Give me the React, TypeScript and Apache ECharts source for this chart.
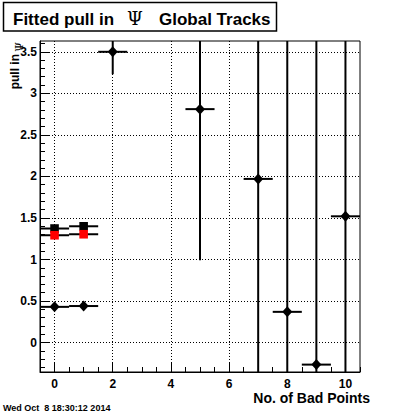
import React, { useEffect, useRef } from "react";
import * as echarts from "echarts";

// ---- data ----
const diamondX = [0, 1, 2, 5, 7, 8, 9, 10];
const diamondY = [0.43, 0.44, 3.5, 2.81, 1.97, 0.37, -0.265, 1.52];
const diamondXErr = [0.5, 0.5, 0.5, 0.5, 0.5, 0.5, 0.5, 0.5];
const diamondYErr = [0.02, 0.02, 0.27, 1.82, 3.0, 3.5, 4.2, 3.6];

const squareX = [0, 1];
const blackSquareY = [1.373, 1.4];
const redSquareY = [1.292, 1.304];
const squareXErr = [0.5, 0.5];
const squareYErr = [0.01, 0.01];

const xMajorTicks = [0, 2, 4, 6, 8, 10];
const yMajorTicks = [0, 0.5, 1, 1.5, 2, 2.5, 3, 3.5];

const titleMain = "Fitted pull in";
const titlePsi = "\u03A8";
const titleRest = "Global Tracks";
const xTitle = "No. of Bad Points";
const yTitle = "pull in";
const dateText = "Wed Oct  8 18:30:12 2014";

const X_MIN = -0.5;
const X_MAX = 10.5;
const Y_MIN = -0.354;
const Y_MAX = 3.63;

const xMinorTicks: number[] = [];
for (let i = -1; i <= 21; i++) xMinorTicks.push(i / 2);
const yMinorTicks: number[] = [];
for (let i = -3; i <= 36; i++) yMinorTicks.push(Math.round(i) / 10);

const FONT = "Liberation Sans";

function makeRenderer(marker: "diamond" | "square", color: string) {
  return (params: any, api: any) => {
    const x = api.value(0);
    const y = api.value(1);
    const ex = api.value(2);
    const ey = api.value(3);
    const cs = params.coordSys;
    const clampX = (v: number) => Math.max(cs.x, Math.min(cs.x + cs.width, v));
    const clampY = (v: number) => Math.max(cs.y, Math.min(cs.y + cs.height, v));
    const c = api.coord([x, y]);
    const l = clampX(api.coord([x - ex, y])[0]);
    const r = clampX(api.coord([x + ex, y])[0]);
    const t = clampY(api.coord([x, y + ey])[1]);
    const b = clampY(api.coord([x, y - ey])[1]);
    const children: any[] = [
      {
        type: "line",
        shape: { x1: l, y1: c[1], x2: r, y2: c[1] },
        style: { stroke: "#000", lineWidth: 2 },
      },
      {
        type: "line",
        shape: { x1: c[0], y1: t, x2: c[0], y2: b },
        style: { stroke: "#000", lineWidth: 2 },
      },
    ];
    if (marker === "diamond") {
      children.push({
        type: "polygon",
        shape: {
          points: [
            [c[0], c[1] - 5.5],
            [c[0] + 5, c[1]],
            [c[0], c[1] + 5.5],
            [c[0] - 5, c[1]],
          ],
        },
        style: { fill: color },
      });
    } else {
      children.push({
        type: "rect",
        shape: { x: c[0] - 4.3, y: c[1] - 4.3, width: 8.6, height: 8.6 },
        style: { fill: color },
      });
    }
    return { type: "group", children };
  };
}

export default function App() {
  const ref = useRef<HTMLDivElement>(null);

  useEffect(() => {
    if (!ref.current) return;
    const chart = echarts.init(ref.current, undefined, { renderer: "svg" });

    const diamondData = diamondX.map((x, i) => [x, diamondY[i], diamondXErr[i], diamondYErr[i]]);
    const blackSqData = squareX.map((x, i) => [x, blackSquareY[i], squareXErr[i], squareYErr[i]]);
    const redSqData = squareX.map((x, i) => [x, redSquareY[i], squareXErr[i], squareYErr[i]]);

    const labelStyle = { color: "#000", fontFamily: FONT, fontWeight: "bold" as const, fontSize: 12 };

    chart.setOption({
      animation: false,
      backgroundColor: "#fff",
      grid: {
        left: 40,
        top: 41,
        width: 320,
        height: 331,
        show: true,
        borderColor: "#000",
        borderWidth: 1,
        backgroundColor: "transparent",
        containLabel: false,
        outerBoundsMode: "none",
      },
      xAxis: [
        {
          type: "value",
          min: X_MIN,
          max: X_MAX,
          position: "bottom",
          axisLine: { show: true, onZero: false, lineStyle: { color: "#000", width: 1 } },
          axisTick: { show: true, inside: true, length: 10, customValues: xMajorTicks, lineStyle: { color: "#000" } },
          axisLabel: { show: true, customValues: xMajorTicks, margin: 6, ...labelStyle },
          splitLine: { show: true, lineStyle: { color: "#000", width: 1, type: [1, 2] } },
        },
        {
          type: "value",
          min: X_MIN,
          max: X_MAX,
          position: "bottom",
          axisLine: { show: false, onZero: false },
          axisTick: { show: true, inside: true, length: 5, customValues: xMinorTicks, lineStyle: { color: "#000" } },
          axisLabel: { show: false },
          splitLine: { show: false },
        },
      ],
      yAxis: [
        {
          type: "value",
          min: Y_MIN,
          max: Y_MAX,
          position: "left",
          axisLine: { show: true, onZero: false, lineStyle: { color: "#000", width: 1 } },
          axisTick: { show: true, inside: true, length: 9, customValues: yMajorTicks, lineStyle: { color: "#000" } },
          axisLabel: { show: true, customValues: yMajorTicks, margin: 3, ...labelStyle },
          splitLine: { show: true, lineStyle: { color: "#000", width: 1, type: [1, 2] } },
        },
        {
          type: "value",
          min: Y_MIN,
          max: Y_MAX,
          position: "left",
          axisLine: { show: false, onZero: false },
          axisTick: { show: true, inside: true, length: 5, customValues: yMinorTicks, lineStyle: { color: "#000" } },
          axisLabel: { show: false },
          splitLine: { show: false },
        },
      ],
      series: [
        {
          type: "custom",
          name: "diamonds",
          renderItem: makeRenderer("diamond", "#000"),
          data: diamondData,
          encode: { x: 0, y: 1 },
          clip: true,
          z: 5,
        },
        {
          type: "custom",
          name: "black squares",
          renderItem: makeRenderer("square", "#000"),
          data: blackSqData,
          encode: { x: 0, y: 1 },
          clip: true,
          z: 5,
        },
        {
          type: "custom",
          name: "red squares",
          renderItem: makeRenderer("square", "#ff0000"),
          data: redSqData,
          encode: { x: 0, y: 1 },
          clip: true,
          z: 6,
        },
      ],
      graphic: [
        {
          type: "rect",
          shape: { x: 3.5, y: 2.5, width: 273, height: 28.5 },
          style: { fill: "#fff", stroke: "#000", lineWidth: 1.5 },
          z: 10,
        },
        {
          type: "text",
          x: 13,
          y: 19,
          style: { text: titleMain, fill: "#000", font: `bold 17px "${FONT}"`, textAlign: "left", textVerticalAlign: "middle" },
          z: 11,
        },
        {
          type: "text",
          x: 135,
          y: 18.5,
          style: { text: titlePsi, fill: "#000", font: `18px "DejaVu Serif"`, textAlign: "center", textVerticalAlign: "middle" },
          z: 11,
        },
        {
          type: "text",
          x: 159,
          y: 19,
          style: { text: titleRest, fill: "#000", font: `bold 17px "${FONT}"`, textAlign: "left", textVerticalAlign: "middle" },
          z: 11,
        },
        {
          type: "group",
          x: 14.5,
          y: 54,
          rotation: Math.PI / 2,
          z: 11,
          children: [
            {
              type: "text",
              x: 0,
              y: 0,
              style: { text: yTitle, fill: "#000", font: `bold 12px "${FONT}"`, textAlign: "right", textVerticalAlign: "middle" },
              z: 11,
            },
            {
              type: "text",
              x: 7,
              y: 5,
              style: { text: titlePsi, fill: "#000", font: `11px "DejaVu Serif"`, textAlign: "center", textVerticalAlign: "middle" },
              z: 11,
            },
          ],
        },
        {
          type: "text",
          x: 370,
          y: 397.5,
          style: { text: xTitle, fill: "#000", font: `bold 14px "${FONT}"`, textAlign: "right", textVerticalAlign: "middle" },
          z: 11,
        },
        {
          type: "text",
          x: 3,
          y: 407.5,
          style: { text: dateText, fill: "#000", font: `bold 9px "${FONT}"`, textAlign: "left", textVerticalAlign: "middle" },
          z: 11,
        },
      ],
    });

    return () => chart.dispose();
  }, []);

  return (
    <div
      ref={ref}
      style={{ position: "absolute", left: 0, top: 0, width: 400, height: 414, background: "#fff" }}
    />
  );
}
